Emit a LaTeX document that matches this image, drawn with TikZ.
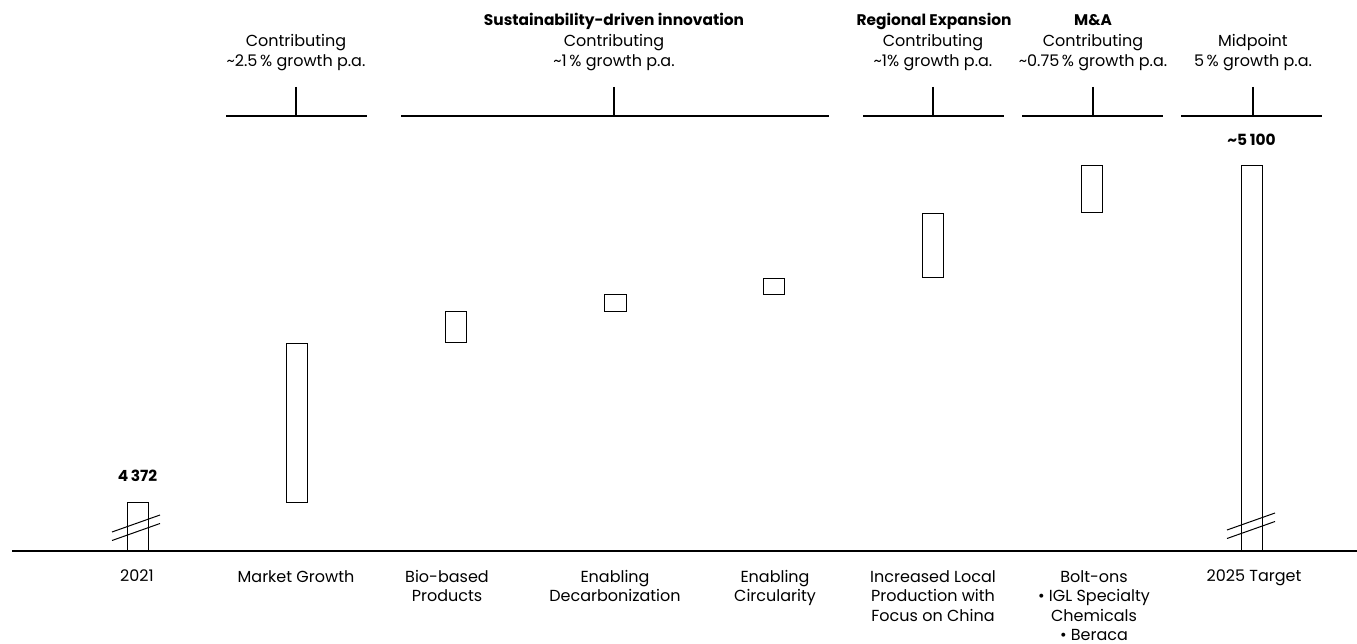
\documentclass[tikz,border=0pt]{standalone}
\usepackage{fontspec}
\setmainfont{Poppins}
\usetikzlibrary{calc}
\tikzset{
  barbox/.style={draw=black, line width=1pt},
  brkline/.style={draw=black, line width=1pt},
  brace/.style={draw=black, line width=1.2pt},
  toptxt/.style={anchor=base, inner sep=0pt, font=\fontsize{16}{18}\selectfont},
  toptitle/.style={toptxt, font=\fontsize{15.4}{18}\selectfont\bfseries},
  bottxt/.style={anchor=north, inner sep=0pt, align=center, font=\fontsize{16}{19.5}\selectfont},
  valtxt/.style={anchor=base, inner sep=0pt, font=\fontsize{15.4}{18}\selectfont\bfseries}
}
\newcommand{\wfbar}[5]{\draw[barbox] ( #2 , #3 ) rectangle ( #4 , #5 ) coordinate (#1);}
\newcommand{\brkmark}[2]{\draw[brkline] ( #1 , #2 ) -- ++(48,-17) ( #1 , #2 ) ++(0,8.5) -- ++(48,-17);}
\newcommand{\topbrace}[3]{\draw[brace] ( #1 , 116 ) -- ( #3 , 116 ); \draw[brace] ( #2 , 87 ) -- ( #2 , 116 );}

\begin{document}
\begin{tikzpicture}[x=1pt,y=-1pt]
\useasboundingbox (0,0) rectangle (1357,644);
% axis
\draw[line width=1.3pt] (12,551) -- (1357,551);
% bars
\wfbar{b2021}{127}{502}{148}{551}
\wfbar{bmkt}{286}{343}{307}{502}
\wfbar{bbio}{445}{311}{466}{342}
\wfbar{bdec}{604}{295}{626}{311}
\wfbar{bcirc}{763}{279}{784}{295}
\wfbar{breg}{922}{214}{943}{278}
\wfbar{bma}{1081}{166}{1102}{213}
\wfbar{b2025}{1241}{166}{1262}{551}
% axis breaks
\brkmark{112}{532}
\brkmark{1227}{530}
% bar values
\node[valtxt] (v2021) at (137.5,481) {4\,372};
\node[valtxt] (v2025) at (1251.5,146) {\textasciitilde5\,100};
% braces on top
\topbrace{226}{296}{367}
\topbrace{401}{614}{829}
\topbrace{863}{933}{1004}
\topbrace{1022}{1093}{1163}
\topbrace{1181}{1253}{1322}
% top labels
\node[toptitle] (hsus) at (614,26) {Sustainability-driven innovation};
\node[toptitle] (hreg) at (934,26) {Regional Expansion};
\node[toptitle] (hma) at (1093,26) {M\&A};
\node[toptxt] (cmkt) at (296,47) {Contributing};
\node[toptxt] (gmkt) at (296,67) {\textasciitilde2.5\,\% growth p.a.};
\node[toptxt] (csus) at (614,47) {Contributing};
\node[toptxt] (gsus) at (614,67) {\textasciitilde1\,\% growth p.a.};
\node[toptxt] (creg) at (933,47) {Contributing};
\node[toptxt] (greg) at (933,67) {\textasciitilde1\% growth p.a.};
\node[toptxt] (cma) at (1093,47) {Contributing};
\node[toptxt] (gma) at (1093,67) {\textasciitilde0.75\,\% growth p.a.};
\node[toptxt] (cmid) at (1253,47) {Midpoint};
\node[toptxt] (gmid) at (1253,67) {5\,\% growth p.a.};
% bottom labels
\node[bottxt] (l2021) at (137,570) {2021};
\node[bottxt] (lmkt) at (296,570) {Market Growth};
\node[bottxt] (lbio) at (447,570) {Bio-based\\Products};
\node[bottxt] (ldec) at (615,570) {Enabling\\Decarbonization};
\node[bottxt] (lcirc) at (775,570) {Enabling\\Circularity};
\node[bottxt] (lreg) at (933,570) {Increased Local\\Production with\\Focus on China};
\node[bottxt] (lma) at (1094,570) {Bolt-ons\\\textbullet\ IGL Specialty\\Chemicals\\\textbullet\ Beraca};
\node[bottxt] (l2025) at (1254,570) {2025 Target};
\end{tikzpicture}
\end{document}
